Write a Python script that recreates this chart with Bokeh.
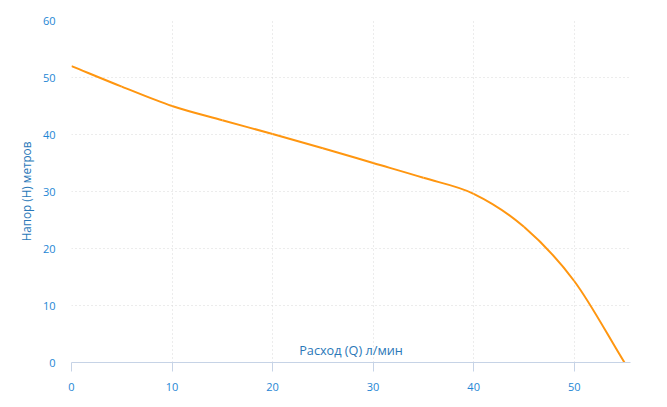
from bokeh.plotting import figure
from bokeh.models import Range1d, FixedTicker, Label, ColumnDataSource
from bokeh.embed import file_html
from bokeh.resources import INLINE

# ---- data ----
flow = [0, 5, 10, 15, 20, 25, 30, 35, 40, 45, 50, 55]          # Q, л/мин
head = [52, 48.4, 45, 42.5, 40.1, 37.6, 35, 32.4, 29.6, 23.8, 14.3, 0]  # H, метров
x_ticks = [0, 10, 20, 30, 40, 50]
y_ticks = [0, 10, 20, 30, 40, 50, 60]
x_title = "Расход (Q) л/мин"
y_title = "Напор (H) метров"

# ---- smooth curve through the points (Catmull-Rom -> cubic Bezier) ----
def spline_segments(xs, ys):
    n = len(xs)
    tx, ty = [], []
    for i in range(n):
        a = max(i - 1, 0)
        b = min(i + 1, n - 1)
        k = 1.0 / 6.0 if 0 < i < n - 1 else 1.0 / 3.0
        tx.append((xs[b] - xs[a]) * k)
        ty.append((ys[b] - ys[a]) * k)
    seg = dict(x0=[], y0=[], x1=[], y1=[], cx0=[], cy0=[], cx1=[], cy1=[])
    for i in range(1, n):
        seg["x0"].append(xs[i - 1]); seg["y0"].append(ys[i - 1])
        seg["x1"].append(xs[i]); seg["y1"].append(ys[i])
        seg["cx0"].append(xs[i - 1] + tx[i - 1]); seg["cy0"].append(ys[i - 1] + ty[i - 1])
        seg["cx1"].append(xs[i] - tx[i]); seg["cy1"].append(ys[i] - ty[i])
    return seg

FONT = "Open Sans"
TICK_COLOR = "#1e86d4"
TITLE_COLOR = "#2a78b8"
GRID_COLOR = "#d8d8d8"

p = figure(width=659, height=399, output_backend="svg", toolbar_location=None,
           x_range=Range1d(0, 55.6), y_range=Range1d(0, 60),
           min_border_left=71, min_border_right=29, min_border_top=20, min_border_bottom=37)
p.outline_line_color = None
p.background_fill_color = "white"
p.border_fill_color = "white"

# grid
p.xgrid.ticker = FixedTicker(ticks=x_ticks)
p.ygrid.ticker = FixedTicker(ticks=y_ticks)
for g in (p.xgrid, p.ygrid):
    g.grid_line_color = GRID_COLOR
    g.grid_line_dash = "1 3"
    g.grid_line_width = 1

# x axis
xa = p.xaxis[0]
xa.ticker = FixedTicker(ticks=x_ticks)
xa.axis_line_color = "#c6d3e6"
xa.axis_line_width = 1
xa.major_tick_line_color = "#c6d3e6"
xa.major_tick_in = 0
xa.major_tick_out = 9
xa.minor_tick_line_color = None
xa.major_label_standoff = 11
xa.major_label_text_color = TICK_COLOR
xa.major_label_text_font = FONT
xa.major_label_text_font_size = "11px"

# y axis
ya = p.yaxis[0]
ya.ticker = FixedTicker(ticks=y_ticks)
ya.axis_line_color = None
ya.major_tick_line_color = None
ya.minor_tick_line_color = None
ya.major_tick_out = 0
ya.major_tick_in = 0
ya.major_label_standoff = 16
ya.major_label_text_color = TICK_COLOR
ya.major_label_text_font = FONT
ya.major_label_text_font_size = "11px"
ya.axis_label = y_title
ya.axis_label_text_color = TITLE_COLOR
ya.axis_label_text_font = FONT
ya.axis_label_text_font_size = "11.7px"
ya.axis_label_text_font_style = "normal"
ya.axis_label_standoff = 6

# curve
src = ColumnDataSource(spline_segments(flow, head))
p.bezier(x0="x0", y0="y0", x1="x1", y1="y1", cx0="cx0", cy0="cy0", cx1="cx1", cy1="cy1",
         source=src, line_color="#ff9610", line_width=2)

# x title above the axis line
lbl = Label(x=27.8, y=0, y_offset=4, text=x_title, text_align="center", text_baseline="bottom",
            text_color=TITLE_COLOR, text_font=FONT, text_font_size="12.7px")
p.add_layout(lbl)

open("out.html", "w").write(file_html(p, INLINE))
